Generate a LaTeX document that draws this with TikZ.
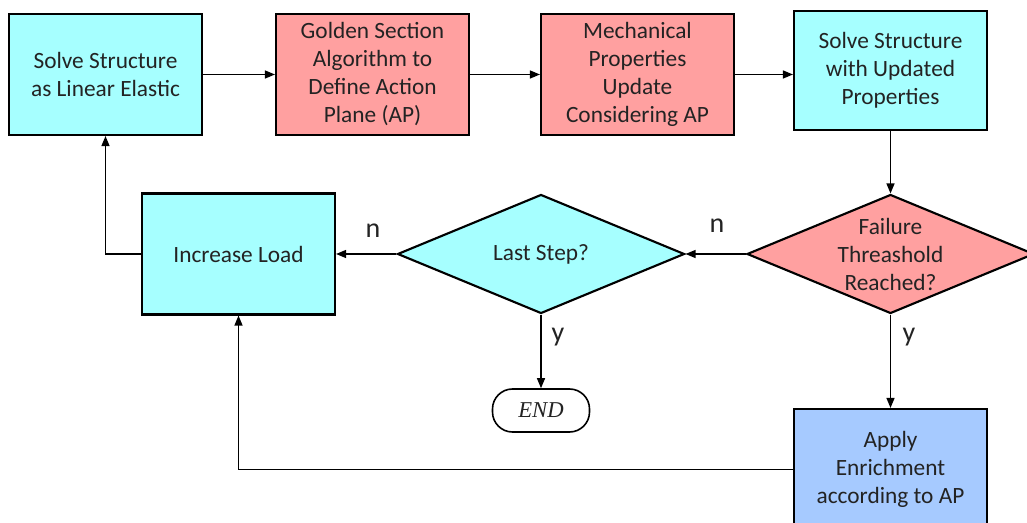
\documentclass[tikz,border=0pt]{standalone}
\usepackage{fontspec}
\setmainfont{Carlito}
\newfontfamily\endfont{Liberation Serif}
\usetikzlibrary{arrows.meta,shapes.geometric}
\definecolor{cyanfill}{RGB}{166,255,255}
\definecolor{pinkfill}{RGB}{255,160,160}
\definecolor{bluefill}{RGB}{166,202,255}
\definecolor{txt}{RGB}{35,35,35}
\begin{document}
\begin{tikzpicture}[x=0.75pt, y=-0.75pt,
  box/.style={draw=black, line width=1.6pt, minimum width=193*0.75pt, minimum height=121*0.75pt,
    inner sep=0pt, align=center, text=txt, font=\fontsize{17.5}{21}\selectfont},
  dia/.style={draw=black, line width=1.6pt, shape=diamond, minimum width=287*0.75pt,
    minimum height=119*0.75pt, inner sep=0pt},
  lbl/.style={text=txt, align=center, font=\fontsize{17.5}{21}\selectfont},
  yn/.style={text=txt, font=\fontsize{21}{23}\selectfont, inner sep=0pt},
  endst/.style={draw=black, line width=1.2pt, rounded corners=20*0.75pt, minimum width=97*0.75pt,
    minimum height=43*0.75pt, inner sep=0pt, text=txt, font=\endfont\itshape\fontsize{17}{20}\selectfont},
  arr/.style={line width=1pt, -{Triangle[length=10*0.75pt,width=8*0.75pt]}}]
\useasboundingbox (0,0) rectangle (1027,523);
\clip (0,0) rectangle (1027,523);
% nodes
\node[box, fill=cyanfill] (b1) at (105.5,74.5) {Solve Structure\\as Linear Elastic};
\node[box, fill=pinkfill] (b2) at (372.5,74.5) {Golden Section\\Algorithm to\\Define Action\\Plane (AP)};
\node[box, fill=pinkfill] (b3) at (637.5,74.5) {Mechanical\\Properties\\Update\\Considering AP};
\node[box, fill=cyanfill, minimum height=119*0.75pt] (b4) at (890.5,70.5) {Solve Structure\\with Updated\\Properties};
\node[dia, fill=pinkfill] (d2) at (890.5,254) {};
\node[lbl] (t2) at (d2) {Failure\\Threashold\\Reached?};
\node[dia, fill=cyanfill] (d1) at (541,254) {};
\node[lbl] (t1) at (d1) {Last Step?};
\node[box, fill=cyanfill] (inc) at (238.5,254) {Increase Load};
\node[box, fill=bluefill] (app) at (890.5,469.5) {Apply\\Enrichment\\according to AP};
\node[endst] (end) at (541,410.5) {END};
% labels
\node[yn] (n1) at (373,231) {n};
\node[yn] (n2) at (717,226) {n};
\node[yn] (y1) at (558,337) {y};
\node[yn] (y2) at (909,337) {y};
% connectors
\draw[arr] (b1) -- (b2);
\draw[arr] (b2) -- (b3);
\draw[arr] (b3.east) -- (b3.east -| b4.west);
\draw[arr] (b4) -- (d2);
\draw[arr] (d2) -- (d1);
\draw[arr] (d1) -- (inc);
\draw[arr] (d1) -- (end);
\draw[arr] (d2) -- (app);
\draw[arr] (app.west) -| (inc.south);
\draw[arr] (inc.west) -| (b1.south);
\end{tikzpicture}
\end{document}
